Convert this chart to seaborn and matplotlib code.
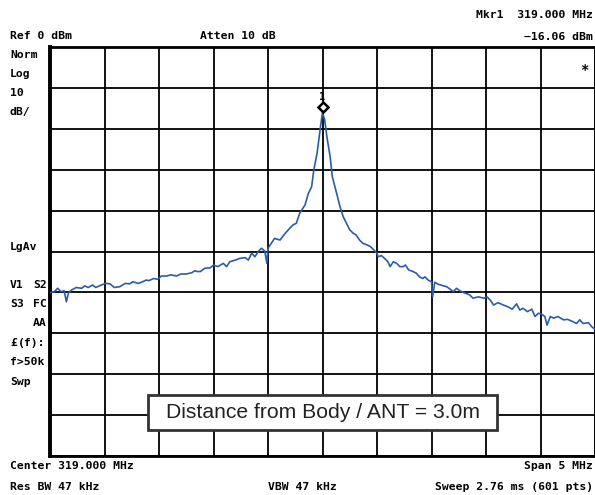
import numpy as np
import pandas as pd
import matplotlib
matplotlib.use("Agg")
import matplotlib.pyplot as plt
import matplotlib.transforms as mtransforms
from matplotlib.patches import Rectangle
import seaborn as sns

# ---------------- data ----------------
freq_mhz = [316.50, 316.54, 316.57, 316.60, 316.63, 316.65, 316.67, 316.70, 316.74, 316.79,
            316.82, 316.85, 316.89, 316.92, 316.97, 317.01, 317.05, 317.09, 317.14, 317.19,
            317.23, 317.26, 317.31, 317.35, 317.38, 317.41, 317.45, 317.49, 317.52, 317.57,
            317.61, 317.66, 317.70, 317.75, 317.80, 317.83, 317.85, 317.88, 317.92, 317.97,
            318.00, 318.04, 318.09, 318.12, 318.15, 318.20, 318.24, 318.29, 318.32, 318.35,
            318.38, 318.41, 318.44, 318.47, 318.49, 318.50, 318.53, 318.56, 318.61, 318.66,
            318.70, 318.73, 318.76, 318.79, 318.84, 318.87, 318.90, 318.92, 318.95, 318.97,
            318.99, 319.00, 319.02, 319.04, 319.07, 319.09, 319.13, 319.16, 319.19, 319.22,
            319.25, 319.28, 319.31, 319.34, 319.37, 319.41, 319.44, 319.47, 319.50, 319.51,
            319.54, 319.57, 319.60, 319.62, 319.65, 319.68, 319.71, 319.74, 319.76, 319.79,
            319.83, 319.86, 319.89, 319.92, 319.94, 319.97, 320.00, 320.01, 320.03, 320.06,
            320.11, 320.14, 320.20, 320.23, 320.26, 320.31, 320.35, 320.38, 320.43, 320.48,
            320.51, 320.54, 320.57, 320.61, 320.66, 320.70, 320.74, 320.78, 320.81, 320.84,
            320.88, 320.92, 320.95, 320.98, 321.01, 321.04, 321.06, 321.09, 321.12, 321.16,
            321.21, 321.25, 321.30, 321.33, 321.36, 321.39, 321.44, 321.47, 321.49, 321.50]
level_dbm = [-60.1, -59.8, -59.0, -59.8, -59.6, -62.3, -60.1, -59.4, -58.8, -59.0,
             -58.4, -58.8, -58.2, -58.8, -58.2, -57.8, -57.9, -58.8, -58.6, -57.8,
             -57.9, -57.4, -57.8, -57.4, -57.0, -57.1, -56.6, -56.8, -56.0, -56.0,
             -55.7, -56.0, -55.5, -55.5, -55.2, -54.7, -54.9, -54.9, -54.1, -54.0,
             -53.3, -53.7, -52.9, -53.7, -52.5, -52.1, -51.7, -51.5, -52.1, -50.4,
             -51.3, -50.0, -49.2, -49.9, -52.9, -49.2, -48.0, -46.8, -47.2, -45.5,
             -44.3, -43.5, -43.1, -40.7, -38.6, -35.8, -34.2, -30.1, -26.0, -21.9,
             -17.8, -16.06, -17.8, -21.9, -26.8, -31.7, -35.8, -39.0, -41.5, -43.1,
             -44.7, -45.5, -46.0, -47.2, -48.0, -48.4, -48.8, -49.6, -50.4, -51.3,
             -51.0, -51.7, -52.5, -53.7, -52.5, -52.9, -53.7, -53.7, -53.3, -54.5,
             -54.9, -55.3, -56.2, -56.6, -56.2, -57.0, -57.4, -61.1, -57.5, -58.0,
             -58.4, -58.6, -59.8, -59.0, -59.6, -60.2, -60.6, -61.4, -61.1, -61.4,
             -61.1, -61.9, -63.1, -62.5, -63.1, -63.5, -64.1, -62.8, -64.3, -63.9,
             -64.7, -64.1, -65.9, -65.1, -65.3, -65.9, -68.0, -65.9, -66.3, -65.9,
             -66.7, -66.6, -67.2, -67.6, -66.7, -67.6, -67.4, -68.4, -68.8, -68.9]

center_mhz = 319.0
span_mhz = 5.0
ref_dbm = 0.0
db_per_div = 10.0
n_div = 10

header_left = ["Ref 0 dBm"]
header_mid = ["Atten 10 dB"]
marker_lines = ["Mkr1  319.000 MHz", "\u221216.06 dBm"]
side_top = ["Norm", "Log", "10", "dB/"]
side_mid = ["LgAv"]
footer_left = ["Center 319.000 MHz", "Res BW 47 kHz"]
footer_mid = ["VBW 47 kHz"]
footer_right = ["Span 5 MHz", "Sweep 2.76 ms (601 pts)"]
box_text = "Distance from Body / ANT = 3.0m"

# ---------------- figure ----------------
W, H = 595, 495
sns.set_theme(style="white")
plt.rcParams["font.family"] = ["DejaVu Sans Mono", "DejaVu Sans"]

fig = plt.figure(figsize=(W / 100, H / 100), dpi=100)
x0, x1, y0, y1 = 50, 595, 47, 456
ax = fig.add_axes([x0 / W, 1 - y1 / H, (x1 - x0) / W, (y1 - y0) / H])

df = pd.DataFrame({"freq": freq_mhz, "level": level_dbm})
sns.lineplot(data=df, x="freq", y="level", ax=ax, color="#2b5ca8",
             linewidth=1.2, estimator=None, sort=True, zorder=3)

fmin, fmax = center_mhz - span_mhz / 2, center_mhz + span_mhz / 2
ax.set_xlim(fmin, fmax)
ax.set_ylim(ref_dbm - db_per_div * n_div, ref_dbm)
ax.set_xticks(np.linspace(fmin, fmax, n_div + 1))
ax.set_yticks(np.linspace(ref_dbm - db_per_div * n_div, ref_dbm, n_div + 1))
ax.grid(True, color="black", linewidth=1.3)
ax.tick_params(length=0, labelbottom=False, labelleft=False)
ax.set_xlabel("")
ax.set_ylabel("")
ax.set_facecolor("white")
for side, sp in ax.spines.items():
    sp.set_color("black")
    sp.set_linewidth(2.0)
ax.spines["left"].set_linewidth(2.8)

# marker at peak
ipk = int(np.argmax(level_dbm))
fpk, lpk = freq_mhz[ipk], level_dbm[ipk]
tr = mtransforms.offset_copy(ax.transData, fig=fig, x=0, y=3.8, units="points")
ax.plot([fpk], [lpk], marker="D", ms=5.5, mfc="white", mec="black", mew=1.8,
        transform=tr, zorder=5, clip_on=False)
ax.annotate("1", (fpk, lpk), xytext=(0, 11), textcoords="offset points",
            ha="center", va="center", fontsize=7.5, fontweight="bold",
            family="DejaVu Sans Mono", zorder=6, color="black")

# ---------------- annotation texts ----------------
FS = 8.2
FW = "bold"

def ftxt(x, y, s, ha="left", size=FS, **kw):
    kw.setdefault("fontweight", FW)
    fig.text(x / W, 1 - y / H, s, ha=ha, va="center", fontsize=size,
             color="black", **kw)

ftxt(593, 15, marker_lines[0], ha="right")
ftxt(593, 37, marker_lines[1], ha="right")
ftxt(10, 36, header_left[0])
ftxt(200, 36, header_mid[0])
for s, y in zip(side_top, [55, 74, 93, 112]):
    ftxt(10, y, s)
ftxt(10, 247, side_mid[0])
ftxt(10, 285, "V1")
ftxt(47, 285, "S2", ha="right")
ftxt(10, 304, "S3")
ftxt(47, 304, "FC", ha="right")
ftxt(47, 323, "AA", ha="right")
ftxt(10, 343, "\u00a3", fontweight="heavy")
ftxt(17.5, 343, "(f):")
ftxt(10, 362, "f>50k")
ftxt(10, 382, "Swp")
ftxt(580, 70, "*", size=10)
ftxt(10, 466, footer_left[0])
ftxt(10, 487, footer_left[1])
ftxt(268, 487, footer_mid[0])
ftxt(593, 466, footer_right[0], ha="right")
ftxt(593, 487, footer_right[1], ha="right")

# info box
bx0, bx1, by0, by1 = 148, 497, 395, 430
fig.patches.append(Rectangle((bx0 / W, 1 - by1 / H), (bx1 - bx0) / W, (by1 - by0) / H,
                             transform=fig.transFigure, facecolor="white",
                             edgecolor="#333333", linewidth=2.0, zorder=10))
fig.text((bx0 + bx1) / 2 / W, 1 - (by0 + by1) / 2 / H, box_text, ha="center",
         va="center", fontsize=15.2, color="#222222", family="Liberation Sans",
         zorder=11)

fig.savefig("out.png", dpi=100, facecolor="white")
